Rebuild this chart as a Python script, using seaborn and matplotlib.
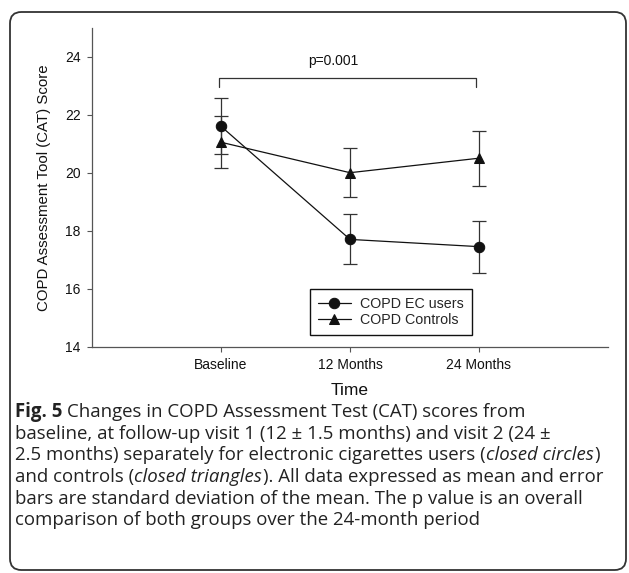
import matplotlib
matplotlib.use("Agg")
import matplotlib.pyplot as plt
import seaborn as sns
import pandas as pd
from matplotlib.patches import FancyBboxPatch

# ---- data ----
times = ["Baseline", "12 Months", "24 Months"]
groups = ["COPD EC users", "COPD Controls"]
ec_mean = [21.6, 17.7, 17.45]
ec_sd = [0.97, 0.86, 0.90]
ctrl_mean = [21.05, 20.0, 20.5]
ctrl_sd = [0.90, 0.85, 0.95]
y_ticks = [14, 16, 18, 20, 22, 24]
p_label = "p=0.001"
bracket_top = 23.28
bracket_bottom = 22.94
p_text_y = 23.85

caption_lines = [
    [("Fig. 5", "bold"), ("Changes in COPD Assessment Test (CAT) scores from", "normal")],
    [("baseline, at follow-up visit 1 (12 ± 1.5 months) and visit 2 (24 ±", "normal")],
    [("2.5 months) separately for electronic cigarettes users (", "normal"),
     ("closed circles", "italic"), (")", "normal")],
    [("and controls (", "normal"), ("closed triangles", "italic"),
     ("). All data expressed as mean and error", "normal")],
    [("bars are standard deviation of the mean. The p value is an overall", "normal")],
    [("comparison of both groups over the 24-month period", "normal")],
]

sns.set_theme(style="ticks")
plt.rcParams['font.family'] = ['Liberation Sans', 'DejaVu Sans']

W, H = 629, 573
fig = plt.figure(figsize=(W / 100, H / 100), dpi=100)
fig.patch.set_facecolor("white")

# rounded frame around the whole figure
frame = FancyBboxPatch((10 / W, 3 / H), (626 - 10) / W, (561 - 3) / H,
                       boxstyle="round,pad=0,rounding_size=0.018",
                       mutation_aspect=W / H,
                       transform=fig.transFigure, facecolor="none",
                       edgecolor="#333333", linewidth=1.3)
fig.patches.append(frame)

ax = fig.add_axes([92 / W, 1 - 346.7 / H, (608 - 92) / W, (346.7 - 27.7) / H])

df = pd.DataFrame({
    "Time": times * 2,
    "Score": ec_mean + ctrl_mean,
    "Group": [groups[0]] * 3 + [groups[1]] * 3,
})

sns.lineplot(data=df, x="Time", y="Score", hue="Group", style="Group",
             markers={groups[0]: "o", groups[1]: "^"}, dashes=False,
             palette={groups[0]: "#111111", groups[1]: "#111111"},
             sort=False, ax=ax, linewidth=0.9, markersize=7.5,
             markeredgecolor="#111111")

for m, s in [(ec_mean, ec_sd), (ctrl_mean, ctrl_sd)]:
    ax.errorbar(times, m, yerr=s, fmt="none", ecolor="#333333",
                elinewidth=0.9, capsize=4.7, capthick=0.9, zorder=1)

# significance bracket
i0, i1 = times.index("Baseline"), times.index("24 Months")
xl, xr = i0 - 0.012, i1 - 0.025
ax.plot([xl, xl, xr, xr], [bracket_bottom, bracket_top, bracket_top, bracket_bottom],
        color="#333333", linewidth=0.9)
ax.text((i0 + i1) / 2 - 0.13, p_text_y, p_label, ha="center", va="center",
        fontsize=10, color="#111111")

ax.set_xlim(-1, 3)
ax.set_ylim(14, 25)
ax.set_yticks(y_ticks)
sns.despine(ax=ax)
for sp in ["left", "bottom"]:
    ax.spines[sp].set_color("#555555")
    ax.spines[sp].set_linewidth(0.9)
ax.tick_params(axis="both", direction="out", length=3.6, width=0.8,
               color="#555555", labelsize=10, labelcolor="#111111", pad=4.5)
ax.set_xlabel("Time", fontsize=12.5, labelpad=8, color="#111111")
ax.set_ylabel("COPD Assessment Tool (CAT) Score", fontsize=10.8,
              labelpad=10, color="#111111")

old = ax.get_legend()
handles = old.legend_handles
labels = [t.get_text() for t in old.get_texts()]
old.remove()
leg = ax.legend(handles, labels, loc="lower left", bbox_to_anchor=(0.69, 14.4),
                bbox_transform=ax.transData, frameon=True, fancybox=False,
                edgecolor="#111111", framealpha=1, fontsize=10.3,
                handlelength=2.3, handletextpad=0.65, borderpad=0.55,
                labelspacing=0.15, borderaxespad=0)
leg.get_frame().set_linewidth(1.0)
for h in leg.legend_handles:
    h.set_markersize(7.5)
    h.set_linewidth(0.9)

# caption with mixed styles
cap_font = ['Open Sans', 'DejaVu Sans']
cap_size = 13.4
fig.canvas.draw()
renderer = fig.canvas.get_renderer()


def width_px(s, weight="normal", style="normal"):
    t = fig.text(0, 0, s, fontsize=cap_size, family=cap_font,
                 fontweight=weight, fontstyle=style)
    w = t.get_window_extent(renderer).width
    t.remove()
    return w


space_w = width_px("x x") - width_px("xx")
base_y = 417
line_gap = 21.65
for i, line in enumerate(caption_lines):
    x = 15.0
    y = base_y + i * line_gap
    for j, (txt, st) in enumerate(line):
        weight = "bold" if st == "bold" else "normal"
        style = "italic" if st == "italic" else "normal"
        t = fig.text(x / W, 1 - y / H, txt, fontsize=cap_size, family=cap_font,
                     fontweight=weight, fontstyle=style, va="baseline",
                     ha="left", color="#222222")
        w = t.get_window_extent(renderer).width
        x += w
        if st == "bold":
            x += space_w
        elif style == "italic":
            x += 1.0

fig.savefig("out.png", dpi=100, facecolor="white")
